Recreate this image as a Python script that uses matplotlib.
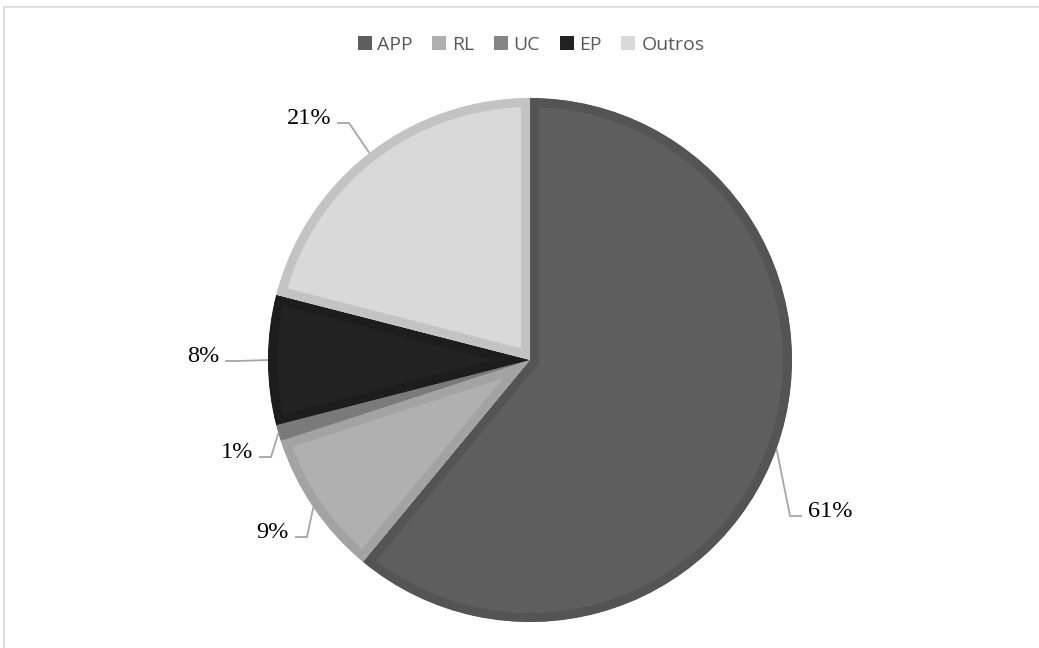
import numpy as np
import matplotlib.pyplot as plt
from matplotlib.patches import Patch
from matplotlib.lines import Line2D

# share of each category (%)
categories = ['APP', 'RL', 'UC', 'EP', 'Outros']
values = [61, 9, 1, 8, 21]
labels = ['61%', '9%', '1%', '8%', '21%']

fills = ['#5e5e5e', '#b0b0b0', '#858585', '#222222', '#d9d9d9']
borders = ['#545454', '#a3a3a3', '#7a7a7a', '#1d1d1d', '#c3c3c3']

W, H = 1039, 648
cx, cy, R = 530, H - 360, 262

# where each percentage label sits (x of the edge closest to the pie, baseline y)
label_pos = [(808, 517), (289, 538), (253, 458), (219, 362), (331, 124)]

fig = plt.figure(figsize=(W / 100, H / 100), dpi=100)
ax = fig.add_axes([0, 0, 1, 1])

wedges, _ = ax.pie(values, colors=fills, startangle=90, counterclock=False,
                   center=(cx, cy), radius=R,
                   wedgeprops=dict(linewidth=13))
# border drawn only on the inside of each slice
for w, ec in zip(wedges, borders):
    w.set_edgecolor(ec)
    w.set_clip_path(w)
    w.set_clip_on(True)

ax.set_xlim(0, W)
ax.set_ylim(0, H)
ax.axis('off')

# leader lines + labels
for w, lab, (tx, ty) in zip(wedges, labels, label_pos):
    mid = np.deg2rad((w.theta1 + w.theta2) / 2)
    ex, ey = cx + R * np.cos(mid), cy + R * np.sin(mid)
    by = H - ty + 1
    if tx > cx:
        x0, x1 = tx - 6, tx - 18
        ha = 'left'
    else:
        x0, x1 = tx + 6, tx + 18
        ha = 'right'
    ax.plot([x0, x1, ex], [by, by, ey], color='#a6a6a6', lw=1.3,
            solid_capstyle='butt', zorder=1)
    ax.text(tx, H - ty, lab, ha=ha, va='baseline', fontsize=17.5,
            family='Liberation Serif', color='black')

handles = [Patch(facecolor=c, edgecolor='none') for c in fills]
leg = ax.legend(handles, categories, loc='center', ncol=5, frameon=False,
                bbox_to_anchor=(531 / W, 1 - 45 / H),
                prop={'family': 'Open Sans', 'size': 14},
                handlelength=0.72, handleheight=0.72, handletextpad=0.3,
                columnspacing=1.0, labelcolor='#595959')

# outer chart frame
fig.add_artist(Line2D([4 / W, 1], [1 - 7 / H, 1 - 7 / H], color='#d9d9d9', lw=1.2))
fig.add_artist(Line2D([4 / W, 4 / W], [0, 1 - 7 / H], color='#d9d9d9', lw=1.2))

fig.savefig('out.png', dpi=100, facecolor='white')
